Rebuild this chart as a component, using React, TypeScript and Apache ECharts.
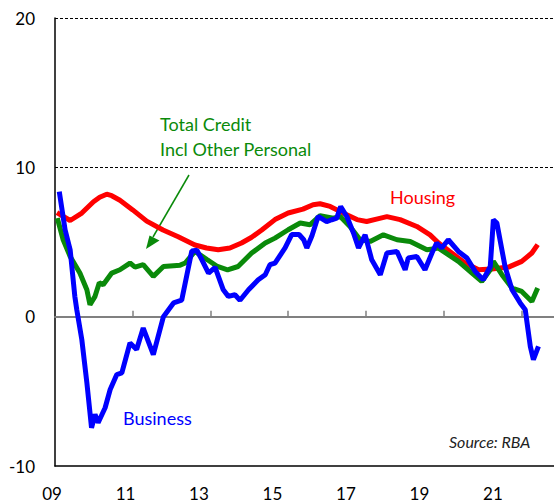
import React, { useEffect, useRef } from "react";
import * as echarts from "echarts";

const housing: [number, number][] = [
  [2009.05, 6.97], [2009.39, 6.44], [2009.69, 6.94], [2009.99, 7.7], [2010.15, 8.0],
  [2010.33, 8.2], [2010.46, 8.1], [2010.67, 7.8], [2011.0, 7.15], [2011.36, 6.4],
  [2011.78, 5.8], [2012.17, 5.35], [2012.6, 4.8], [2012.9, 4.6], [2013.2, 4.48],
  [2013.5, 4.6], [2013.8, 4.93], [2014.05, 5.3], [2014.32, 5.8], [2014.66, 6.5],
  [2015.0, 6.94], [2015.38, 7.2], [2015.64, 7.5], [2015.82, 7.56], [2016.08, 7.38],
  [2016.41, 6.95], [2016.77, 6.5], [2017.02, 6.37], [2017.3, 6.55], [2017.54, 6.7],
  [2017.88, 6.5], [2018.31, 6.04], [2018.65, 5.48], [2018.87, 4.93], [2019.21, 4.26],
  [2019.55, 3.59], [2019.9, 3.14], [2020.24, 3.19], [2020.67, 3.32], [2021.01, 3.7],
  [2021.27, 4.26], [2021.42, 4.82],
];

const totalCredit: [number, number][] = [
  [2009.06, 6.6], [2009.21, 5.15], [2009.39, 4.03], [2009.64, 2.92], [2009.82, 1.8],
  [2009.9, 0.8], [2010.03, 1.36], [2010.14, 2.27], [2010.24, 2.14], [2010.46, 2.92],
  [2010.67, 3.14], [2010.93, 3.59], [2011.06, 3.32], [2011.27, 3.48], [2011.53, 2.7],
  [2011.79, 3.36], [2012.22, 3.45], [2012.35, 3.59], [2012.6, 4.37], [2012.92, 3.81],
  [2013.18, 3.36], [2013.44, 3.14], [2013.71, 3.36], [2014.06, 4.26], [2014.41, 4.93],
  [2014.66, 5.26], [2015.0, 5.82], [2015.31, 6.27], [2015.56, 6.15], [2015.82, 6.76],
  [2016.16, 6.6], [2016.34, 6.71], [2016.59, 6.04], [2016.85, 5.15], [2017.11, 5.04],
  [2017.45, 5.48], [2017.8, 5.15], [2018.14, 5.04], [2018.57, 4.48], [2018.87, 4.59],
  [2019.12, 4.15], [2019.38, 3.7], [2019.73, 2.92], [2019.98, 2.36], [2020.2, 3.14],
  [2020.28, 3.7], [2020.5, 2.81], [2020.76, 1.92], [2021.01, 1.69], [2021.27, 1.02],
  [2021.42, 1.92],
];

const business: [number, number][] = [
  [2009.11, 8.38], [2009.26, 5.82], [2009.39, 4.48], [2009.51, 1.36], [2009.56, 0.47],
  [2009.69, -1.54], [2009.82, -4.43], [2009.9, -6.44], [2009.94, -7.44], [2010.03, -6.55],
  [2010.11, -7.1], [2010.29, -6.1], [2010.42, -4.88], [2010.59, -3.88], [2010.72, -3.77],
  [2010.93, -1.76], [2011.1, -2.2], [2011.27, -0.76], [2011.53, -2.54], [2011.79, 0.0],
  [2012.05, 0.92], [2012.26, 1.1], [2012.52, 4.4], [2012.65, 4.45], [2012.78, 3.81],
  [2012.95, 2.92], [2013.12, 3.3], [2013.33, 1.8], [2013.46, 1.36], [2013.63, 1.47],
  [2013.76, 1.1], [2013.98, 1.8], [2014.23, 2.47], [2014.41, 2.81], [2014.53, 3.48],
  [2014.66, 3.59], [2014.92, 4.6], [2015.09, 5.5], [2015.28, 5.5], [2015.4, 5.15],
  [2015.48, 4.6], [2015.61, 5.4], [2015.77, 6.71], [2015.99, 6.37], [2016.12, 6.49],
  [2016.25, 6.6], [2016.35, 7.38], [2016.51, 6.71], [2016.68, 5.6], [2016.81, 4.6],
  [2016.98, 5.48], [2017.15, 3.81], [2017.37, 2.81], [2017.54, 4.26], [2017.8, 4.37],
  [2018.01, 3.14], [2018.09, 3.93], [2018.31, 4.03], [2018.52, 3.14], [2018.7, 4.26],
  [2018.82, 4.93], [2018.95, 4.6], [2019.12, 5.15], [2019.38, 4.37], [2019.6, 3.93],
  [2019.81, 3.03], [2020.02, 2.47], [2020.2, 3.36], [2020.28, 6.49], [2020.37, 6.27],
  [2020.58, 3.36], [2020.76, 1.8], [2020.97, 0.92], [2021.1, 0.47], [2021.23, -1.99],
  [2021.31, -2.88], [2021.44, -1.99],
];

const xTickYears = [2011, 2013, 2015, 2017, 2019, 2021];
const xLabelYears = [2009, 2011, 2013, 2015, 2017, 2019, 2021];
const xLabels = ["09", "11", "13", "15", "17", "19", "21"];
const yTicks = [-10, 0, 10, 20];
const dashedLevels = [10, 20];

const FONT = "Lato, 'Open Sans', sans-serif";

export default function App() {
  const ref = useRef<HTMLDivElement>(null);
  useEffect(() => {
    if (!ref.current) return;
    const chart = echarts.init(ref.current, null, { renderer: "svg" });
    const green = "#0a8a0a";
    chart.setOption({
      animation: false,
      backgroundColor: "#ffffff",
      grid: { left: 55, top: 18, right: 0, bottom: 37, containLabel: false, outerBoundsMode: "none" },
      xAxis: [
        {
          type: "value",
          min: 2009,
          max: 2021.84,
          position: "bottom",
          axisLine: { show: true, onZero: true, lineStyle: { color: "#808080", width: 2 } },
          axisTick: {
            show: true,
            inside: true,
            length: 6,
            customValues: xTickYears,
            lineStyle: { color: "#808080", width: 1.5 },
          },
          axisLabel: { show: false },
          splitLine: { show: false },
        },
        {
          type: "value",
          min: 2009,
          max: 2022.58,
          position: "bottom",
          axisLine: { show: true, onZero: false, lineStyle: { color: "#000", width: 1.5 } },
          axisTick: { show: false },
          splitLine: { show: false },
          axisLabel: {
            show: true,
            customValues: xLabelYears,
            formatter: (v: number) => xLabels[xLabelYears.indexOf(Math.round(v))] ?? "",
            color: "#000",
            fontSize: 17,
            fontFamily: FONT,
            margin: 19,
            padding: [0, 6, 0, 0],
          },
        },
      ],
      yAxis: {
        type: "value",
        min: yTicks[0],
        max: yTicks[yTicks.length - 1],
        interval: 10,
        axisLine: { show: true, lineStyle: { color: "#000", width: 1.5 } },
        axisTick: { show: false },
        splitLine: { show: false },
        axisLabel: { color: "#000", fontSize: 17, fontFamily: FONT, margin: 20 },
      },
      series: [
        {
          name: "Housing",
          type: "line",
          data: housing,
          symbol: "none",
          lineStyle: { color: "#ff0000", width: 5 },
          z: 3,
          markLine: {
            silent: true,
            symbol: "none",
            label: { show: false },
            lineStyle: { color: "#000", width: 1, type: [3, 2] },
            data: dashedLevels.map((v) => ({ yAxis: v })),
          },
        },
        {
          name: "Total Credit",
          type: "line",
          data: totalCredit,
          symbol: "none",
          lineStyle: { color: green, width: 5 },
          z: 4,
        },
        {
          name: "Business",
          type: "line",
          data: business,
          symbol: "none",
          lineStyle: { color: "#0000ff", width: 5 },
          z: 5,
        },
      ],
      graphic: [
        {
          type: "text",
          x: 160,
          y: 124,
          style: { text: "Total Credit", fill: green, font: `18px ${FONT}`, verticalAlign: "middle" },
        },
        {
          type: "text",
          x: 160,
          y: 149,
          style: { text: "Incl Other Personal", fill: green, font: `18px ${FONT}`, verticalAlign: "middle" },
        },
        {
          type: "text",
          x: 390,
          y: 197,
          style: { text: "Housing", fill: "#ff0000", font: `18px ${FONT}`, verticalAlign: "middle" },
        },
        {
          type: "text",
          x: 123,
          y: 418,
          style: { text: "Business", fill: "#0000ff", font: `18px ${FONT}`, verticalAlign: "middle" },
        },
        {
          type: "text",
          x: 449,
          y: 441,
          style: { text: "Source: RBA", fill: "#222", font: `italic 16px ${FONT}`, verticalAlign: "middle" },
        },
        {
          type: "line",
          shape: { x1: 189, y1: 175, x2: 153, y2: 237 },
          style: { stroke: green, lineWidth: 1.5 },
        },
        {
          type: "polygon",
          shape: { points: [[146, 249], [149.5, 235.5], [159.5, 240.5]] },
          style: { fill: green },
        },
      ],
    });
    return () => chart.dispose();
  }, []);
  return (
    <div
      ref={ref}
      style={{ position: "absolute", left: 0, top: 0, width: 554, height: 503 }}
    />
  );
}
